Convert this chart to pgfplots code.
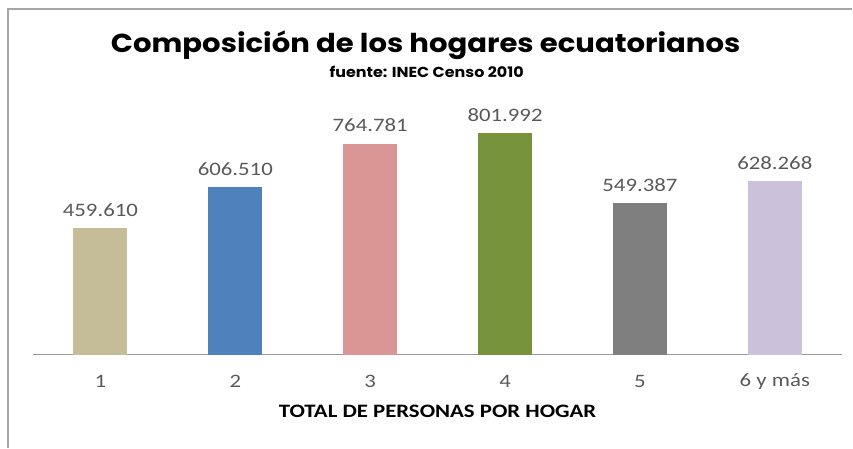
\documentclass[border=0pt]{standalone}
\usepackage{pgfplots}
\pgfplotsset{compat=1.18}
\usepackage{fontspec}
\setmainfont{Carlito}
\newfontfamily\titlefont{Poppins}
\definecolor{c1}{HTML}{C4BD97}
\definecolor{c2}{HTML}{4F81BD}
\definecolor{c3}{HTML}{D99694}
\definecolor{c4}{HTML}{77933C}
\definecolor{c5}{HTML}{7F7F7F}
\definecolor{c6}{HTML}{CCC1DA}
\definecolor{lbl}{HTML}{595959}
\begin{document}
\begin{tikzpicture}
\begin{axis}[
  scale only axis, width=810pt, height=255pt,
  xmin=-0.5, xmax=5.5, ymin=0, ymax=923000,
  axis lines=none,
  ybar, bar width=54pt, bar shift=0pt,
  clip=false,
  xtick=\empty, ytick=\empty,
  nodes near coords,
  point meta=explicit symbolic,
  every node near coord/.append style={font=\fontsize{19}{21}\selectfont, text=lbl, xscale=1.2, yshift=8pt},
]
\coordinate (BL) at ([xshift=-33pt,yshift=-93pt]rel axis cs:0,0);
\path (BL) rectangle ([xshift=853pt,yshift=448pt]BL);
\draw[gray!70, line width=1.5pt] ([xshift=8pt]BL) -- ([xshift=8pt,yshift=439pt]BL) -- ([xshift=853pt,yshift=439pt]BL);
\node[font=\titlefont\bfseries\fontsize{26}{29}\selectfont, xscale=1.12] at ([xshift=426pt,yshift=403pt]BL) {Composición de los hogares ecuatorianos};
\node[font=\titlefont\bfseries\fontsize{14.5}{16}\selectfont, xscale=1.1] at ([xshift=427pt,yshift=376pt]BL) {fuente: INEC Censo 2010};
\draw[gray!80, line width=0.8pt] (axis cs:-0.5,0) -- (axis cs:5.5,0);
\addplot[fill=c1, draw=none] coordinates {(0,459610) [459.610]};
\addplot[fill=c2, draw=none] coordinates {(1,606510) [606.510]};
\addplot[fill=c3, draw=none] coordinates {(2,764781) [764.781]};
\addplot[fill=c4, draw=none] coordinates {(3,801992) [801.992]};
\addplot[fill=c5, draw=none] coordinates {(4,549387) [549.387]};
\addplot[fill=c6, draw=none] coordinates {(5,628268) [628.268]};
\node[font=\fontsize{19}{21}\selectfont, text=lbl, xscale=1.2] at (axis cs:0,0) [yshift=-27pt] {1};
\node[font=\fontsize{19}{21}\selectfont, text=lbl, xscale=1.2] at (axis cs:1,0) [yshift=-27pt] {2};
\node[font=\fontsize{19}{21}\selectfont, text=lbl, xscale=1.2] at (axis cs:2,0) [yshift=-27pt] {3};
\node[font=\fontsize{19}{21}\selectfont, text=lbl, xscale=1.2] at (axis cs:3,0) [yshift=-27pt] {4};
\node[font=\fontsize{19}{21}\selectfont, text=lbl, xscale=1.2] at (axis cs:4,0) [yshift=-27pt] {5};
\node[font=\fontsize{19}{21}\selectfont, text=lbl, xscale=1.2] at (axis cs:5,0) [yshift=-27pt] {6 y más};
\node[font=\bfseries\fontsize{19}{21}\selectfont, xscale=1.2] at (axis cs:2.5,0) [yshift=-57pt] {TOTAL DE PERSONAS POR HOGAR};
\end{axis}
\end{tikzpicture}
\end{document}
